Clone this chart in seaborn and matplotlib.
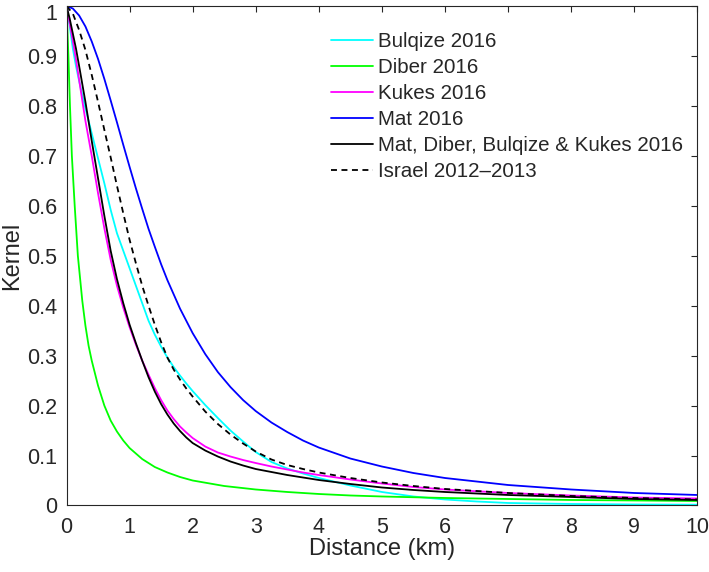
import pandas as pd
import matplotlib
matplotlib.use("Agg")
import matplotlib.pyplot as plt
import matplotlib.transforms as mtransforms
import seaborn as sns

# values (distance in km, kernel value)
bulqize_x = [0, 0.05, 0.1, 0.15, 0.2, 0.3, 0.4, 0.5, 0.6, 0.7, 0.8, 0.9, 1.0, 1.1, 1.2, 1.3, 1.4, 1.5,
             1.6, 1.7, 1.8, 1.9, 2.0, 2.2, 2.4, 2.6, 2.8, 3.0, 3.25, 3.5, 3.75, 4.0, 4.5, 5.0, 5.5, 6.0,
             6.5, 7.0, 8.0, 9.0, 10.0]
bulqize_y = [1.0, 0.96, 0.915, 0.88, 0.85, 0.795, 0.745, 0.695, 0.645, 0.592, 0.545, 0.51, 0.475, 0.44,
             0.405, 0.37, 0.342, 0.318, 0.296, 0.277, 0.26, 0.244, 0.229, 0.201, 0.175, 0.15, 0.128,
             0.107, 0.087, 0.074, 0.064, 0.055, 0.040, 0.027, 0.018, 0.012, 0.008, 0.005, 0.003, 0.002,
             0.0015]

diber_x = [0, 0.03, 0.055, 0.085, 0.13, 0.18, 0.25, 0.3, 0.35, 0.4, 0.5, 0.6, 0.7, 0.8, 0.9, 1.0, 1.2,
           1.4, 1.6, 1.8, 2.0, 2.5, 3.0, 3.5, 4.0, 4.5, 5.0, 6.0, 7.0, 8.0, 9.0, 10.0]
diber_y = [1.0, 0.9, 0.8, 0.7, 0.6, 0.5, 0.41, 0.36, 0.32, 0.29, 0.24, 0.2, 0.17, 0.148, 0.13, 0.115,
           0.093, 0.077, 0.066, 0.057, 0.05, 0.039, 0.032, 0.027, 0.023, 0.02, 0.018, 0.015, 0.013,
           0.011, 0.010, 0.009]

kukes_x = [0, 0.05, 0.1, 0.15, 0.2, 0.3, 0.4, 0.5, 0.6, 0.7, 0.8, 0.9, 1.0, 1.1, 1.2, 1.3, 1.4, 1.5,
           1.6, 1.7, 1.8, 1.9, 2.0, 2.2, 2.4, 2.6, 2.8, 3.0, 3.25, 3.5, 3.75, 4.0, 4.5, 5.0, 5.5, 6.0,
           7.0, 8.0, 9.0, 10.0]
kukes_y = [1.0, 0.965, 0.93, 0.893, 0.852, 0.77, 0.70, 0.625, 0.555, 0.492, 0.44, 0.396, 0.357, 0.322,
           0.29, 0.262, 0.235, 0.211, 0.19, 0.173, 0.158, 0.146, 0.135, 0.118, 0.106, 0.098, 0.091,
           0.085, 0.078, 0.072, 0.066, 0.061, 0.052, 0.044, 0.037, 0.032, 0.025, 0.020, 0.016, 0.014]

mat_x = [0, 0.1, 0.2, 0.3, 0.4, 0.5, 0.6, 0.7, 0.8, 0.9, 1.0, 1.1, 1.2, 1.3, 1.4, 1.5, 1.6, 1.8, 2.0,
         2.2, 2.4, 2.6, 2.8, 3.0, 3.25, 3.5, 3.75, 4.0, 4.5, 5.0, 5.5, 6.0, 7.0, 8.0, 9.0, 10.0]
mat_y = [1.0, 0.995, 0.981, 0.959, 0.929, 0.894, 0.854, 0.811, 0.767, 0.722, 0.678, 0.635, 0.594,
         0.554, 0.518, 0.483, 0.451, 0.394, 0.345, 0.303, 0.267, 0.237, 0.211, 0.189, 0.166, 0.147,
         0.130, 0.116, 0.094, 0.078, 0.065, 0.055, 0.041, 0.032, 0.025, 0.021]

all_x = [0, 0.05, 0.1, 0.15, 0.2, 0.3, 0.4, 0.5, 0.6, 0.7, 0.8, 0.9, 1.0, 1.1, 1.2, 1.3, 1.4, 1.5, 1.6,
         1.7, 1.8, 1.9, 2.0, 2.2, 2.4, 2.6, 2.8, 3.0, 3.25, 3.5, 3.75, 4.0, 4.5, 5.0, 5.5, 6.0, 7.0,
         8.0, 9.0, 10.0]
all_y = [1.0, 0.975, 0.945, 0.915, 0.88, 0.808, 0.73, 0.655, 0.58, 0.51, 0.453, 0.405, 0.362, 0.325,
         0.29, 0.257, 0.228, 0.203, 0.182, 0.164, 0.149, 0.136, 0.125, 0.11, 0.098, 0.088, 0.08,
         0.073, 0.067, 0.061, 0.056, 0.051, 0.043, 0.036, 0.031, 0.027, 0.021, 0.017, 0.013, 0.011]

israel_x = [0, 0.1, 0.2, 0.3, 0.4, 0.5, 0.6, 0.7, 0.8, 0.9, 1.0, 1.1, 1.2, 1.3, 1.4, 1.5, 1.6, 1.7,
            1.8, 1.9, 2.0, 2.2, 2.4, 2.6, 2.8, 3.0, 3.25, 3.5, 3.75, 4.0, 4.5, 5.0, 5.5, 6.0, 7.0,
            8.0, 9.0, 10.0]
israel_y = [1.0, 0.985, 0.952, 0.912, 0.862, 0.808, 0.752, 0.697, 0.64, 0.585, 0.532, 0.485, 0.44,
            0.4, 0.362, 0.327, 0.296, 0.272, 0.252, 0.234, 0.218, 0.188, 0.163, 0.142, 0.124, 0.108,
            0.092, 0.081, 0.073, 0.066, 0.055, 0.046, 0.039, 0.033, 0.025, 0.019, 0.015, 0.012]

labels = ["Bulqize 2016", "Diber 2016", "Kukes 2016", "Mat 2016",
          "Mat, Diber, Bulqize & Kukes 2016", "Israel 2012\u20132013"]
colors = ["#00ffff", "#00ff00", "#ff00ff", "#0000ff", "#000000", "#000000"]
styles = ["-", "-", "-", "-", "-", (0, (3.3, 2.5))]

xticks = list(range(0, 11))
yticks = [0, 0.1, 0.2, 0.3, 0.4, 0.5, 0.6, 0.7, 0.8, 0.9, 1]
ytick_labels = ["0", "0.1", "0.2", "0.3", "0.4", "0.5", "0.6", "0.7", "0.8", "0.9", "1"]

series = [(bulqize_x, bulqize_y), (diber_x, diber_y), (kukes_x, kukes_y),
          (mat_x, mat_y), (all_x, all_y), (israel_x, israel_y)]

sns.set_theme(style="white")
plt.rcParams["font.family"] = ["Liberation Sans", "DejaVu Sans"]

fig = plt.figure(figsize=(7.09, 5.72), dpi=100)
ax = fig.add_axes([0.0938, 0.1163, 0.8897, 0.8732])

for (xs, ys), lab, c, ls in zip(series, labels, colors, styles):
    df = pd.DataFrame({"Distance": xs, "Kernel": ys})
    sns.lineplot(data=df, x="Distance", y="Kernel", ax=ax, color=c, linestyle=ls,
                 linewidth=1.3, label=lab, sort=False)

ax.set_xlim(0, 10)
ax.set_ylim(0, 1)
ax.set_xticks(xticks)
ax.set_xticklabels([str(t) for t in xticks])
ax.set_yticks(yticks)
ax.set_yticklabels(ytick_labels)
ax.tick_params(direction="in", length=4.3, width=0.8, top=True, right=True,
               labelsize=15.5, colors="#262626", pad=7)
ax.tick_params(axis="x", pad=8)
for s in ax.spines.values():
    s.set_color("#262626")
    s.set_linewidth(0.8)

# top label "1" sits a little below its tick so it stays inside the figure
top_lab = ax.get_yticklabels()[-1]
top_lab.set_transform(top_lab.get_transform() +
                      mtransforms.ScaledTranslation(0, -4 / 72, fig.dpi_scale_trans))

ax.set_xlabel("Distance (km)", fontsize=17, color="#262626", labelpad=0)
ax.set_ylabel("Kernel", fontsize=17, color="#262626")
ax.yaxis.set_label_coords(-0.068, 0.5)

ax.legend(loc="upper left", bbox_to_anchor=(0.467, 0.944), bbox_transform=fig.transFigure,
          frameon=False, fontsize=14.8, handlelength=2.05, handletextpad=0.25,
          labelspacing=0.34, borderpad=0, borderaxespad=0)

fig.savefig("out.png", dpi=100)
